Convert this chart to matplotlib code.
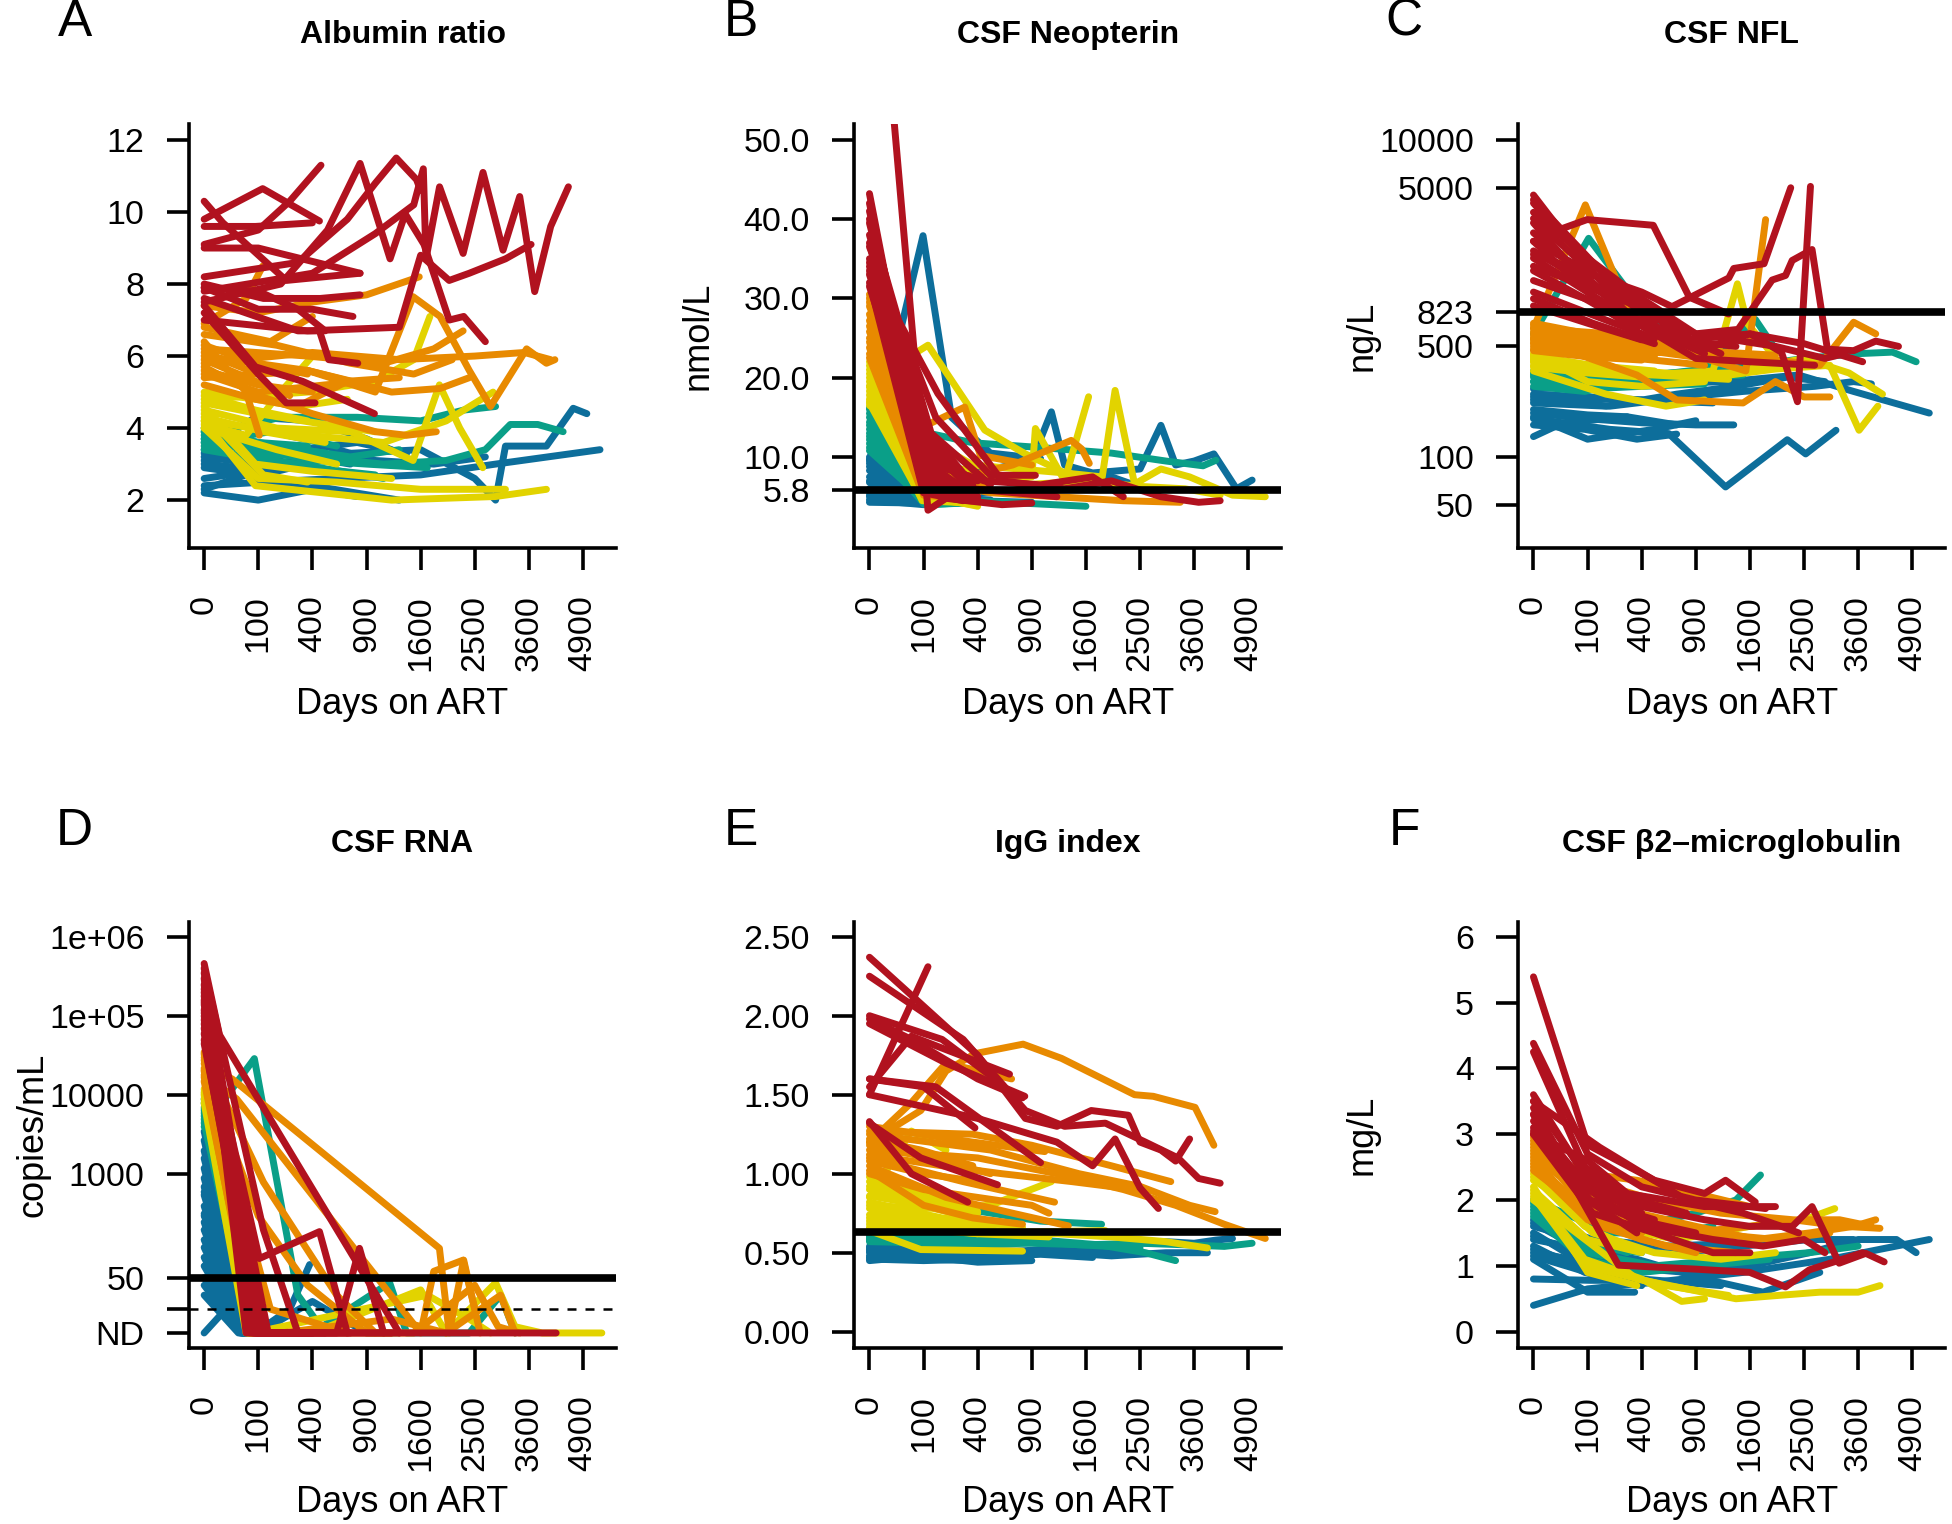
import numpy as np
import matplotlib.pyplot as plt
from matplotlib.ticker import NullLocator

plt.rcParams['font.family'] = ['Liberation Sans', 'DejaVu Sans']

# colour groups (baseline quintiles): b=blue, t=teal, y=yellow, o=orange, r=red
COL = {"b": "#0D6E9B", "t": "#0A9F88", "y": "#E2D300", "o": "#E88A00", "r": "#B1121F"}
ORDER = "btyor"

xtick_days = [0, 100, 400, 900, 1600, 2500, 3600, 4900]

# A: albumin ratio  (group, days on ART, value)
alb = [
    ("b", [0, 100, 400, 800], [2.2, 2.0, 2.3, 2.1]),
    ("b", [0, 120, 600, 1600, 2900, 5350], [2.4, 2.5, 2.6, 2.7, 3.0, 3.4]),
    ("b", [0, 180, 730, 1600, 2500, 2900, 3100, 4000, 4650, 5000], [3.0, 2.8, 3.3, 3.4, 2.6, 2.0, 3.5, 3.5, 4.55, 4.4]),
    ("b", [0, 90, 365, 730], [2.9, 2.7, 3.2, 3.0]),
    ("b", [0, 100, 300, 800, 1400], [3.3, 3.0, 3.4, 3.6, 3.3]),
    ("b", [0, 180, 500, 1000, 1800, 2700], [2.6, 2.9, 3.5, 3.1, 3.0, 3.2]),
    ("b", [0, 90, 400, 900, 1300], [3.4, 4.3, 4.2, 3.7, 3.3]),
    ("b", [0, 60, 200, 500], [2.3, 2.7, 2.5, 2.4]),
    ("b", [0, 100, 400, 1300], [3.1, 2.6, 2.4, 2.0]),
    ("b", [0, 100, 365], [3.2, 3.0, 3.1]),
    ("t", [0, 200, 800, 1600, 2300, 2900], [3.8, 4.3, 4.3, 4.2, 4.5, 4.6]),
    ("t", [0, 365, 1100, 2000, 2700, 3200, 3800, 4400], [3.6, 3.2, 3.0, 3.1, 3.4, 4.1, 4.1, 3.9]),
    ("t", [0, 100, 400, 900, 1700], [3.9, 3.4, 3.1, 3.0, 2.9]),
    ("t", [0, 90, 365, 1000], [3.5, 3.1, 2.9, 2.7]),
    ("t", [0, 180, 730, 1300], [3.7, 3.5, 3.2, 3.4]),
    ("t", [0, 100, 500], [4.0, 3.6, 3.3]),
    ("t", [0, 60, 300, 1100], [3.4, 3.2, 3.0, 2.6]),
    ("t", [0, 150, 600], [3.6, 3.9, 3.5]),
    ("t", [0, 90, 400], [3.7, 3.3, 3.2]),
    ("t", [0, 100, 365], [3.9, 3.6, 3.5]),
    ("y", [0, 90, 1200, 2900, 4000], [4.2, 2.4, 2.0, 2.1, 2.3]),
    ("y", [0, 100, 600, 1600, 3100], [4.0, 2.6, 2.5, 2.3, 2.3]),
    ("y", [0, 365, 1000, 1500, 1740], [4.8, 5.0, 5.3, 5.9, 7.1]),
    ("y", [0, 180, 730, 1490, 1890, 2230, 2650], [4.5, 4.0, 3.9, 3.1, 5.2, 4.0, 2.9]),
    ("y", [0, 365, 1100, 2000, 2850], [4.2, 3.8, 3.6, 4.2, 5.0]),
    ("y", [0, 90, 400, 1200], [4.6, 3.0, 2.8, 2.6]),
    ("y", [0, 120, 365], [4.4, 2.7, 2.5]),
    ("y", [0, 90, 300, 700], [5.0, 4.8, 4.6, 4.8]),
    ("y", [0, 60, 200, 400], [4.1, 3.8, 5.0, 6.0]),
    ("y", [0, 180, 600], [4.0, 3.4, 3.0]),
    ("y", [0, 100, 500, 1000], [4.7, 4.4, 4.1, 3.9]),
    ("y", [0, 120, 500], [4.3, 3.9, 3.6]),
    ("y", [0, 90, 365], [4.9, 4.5, 4.2]),
    ("o", [0, 100, 400, 900, 1580], [7.4, 7.2, 7.5, 7.7, 8.2]),
    ("o", [0, 365, 1000, 1490, 1900, 2400, 2800, 3550, 4000, 4200], [6.0, 5.6, 5.0, 7.65, 7.1, 5.6, 4.6, 6.2, 5.8, 5.9]),
    ("o", [0, 400, 1300, 2500, 3500, 4100], [5.8, 6.1, 5.9, 6.0, 6.1, 5.9]),
    ("o", [0, 365, 1100, 1800, 2290], [6.2, 6.0, 5.8, 6.2, 6.7]),
    ("o", [0, 100, 400, 1000, 1400, 1840], [5.7, 4.9, 4.4, 3.9, 3.8, 3.9]),
    ("o", [0, 60, 104], [6.4, 5.0, 3.8]),
    ("o", [0, 100, 500, 900], [5.5, 5.0, 5.2, 5.3]),
    ("o", [0, 150, 400], [6.8, 6.4, 7.1]),
    ("o", [0, 90, 300, 700, 1300], [5.2, 4.8, 4.6, 5.3, 5.4]),
    ("o", [0, 180, 730, 1500, 2100], [6.6, 6.3, 5.8, 5.5, 5.9]),
    ("o", [0, 60, 117], [6.9, 7.6, 8.5]),
    ("o", [0, 100, 365, 900], [6.1, 5.5, 5.6, 5.2]),
    ("o", [0, 365, 1200, 1900, 2400], [5.4, 5.6, 5.0, 5.1, 5.4]),
    ("o", [0, 90, 250], [5.9, 5.3, 4.9]),
    ("o", [0, 100, 400], [5.6, 5.2, 5.0]),
    ("o", [0, 90, 365], [6.3, 5.8, 5.5]),
    ("r", [0, 117, 454], [9.8, 10.65, 9.75]),
    ("r", [0, 100, 250, 466], [9.1, 9.5, 10.3, 11.3]),
    ("r", [0, 12, 230, 830], [10.3, 9.7, 8.1, 8.3]),
    ("r", [0, 120, 460, 830], [8.0, 7.6, 7.6, 7.7]),
    ("r", [0, 100, 400, 756], [7.9, 7.3, 7.3, 7.1]),
    ("r", [0, 300, 454, 530, 806], [7.6, 6.7, 6.7, 5.9, 5.8]),
    ("r", [0, 90, 330, 990], [7.4, 5.7, 5.3, 4.4]),
    ("r", [0, 100, 230, 420], [7.2, 5.5, 4.7, 4.7]),
    ("r", [0, 365, 1300, 1600, 2050, 2400, 3100, 3650], [7.0, 6.7, 6.8, 8.8, 8.1, 8.3, 8.7, 9.1]),
    ("r", [0, 400, 1000, 1500, 1640, 1680, 1892, 2290, 2655, 3050, 3400, 3730, 4100, 4530],
     [7.8, 8.3, 9.4, 10.2, 11.2, 8.7, 10.7, 8.85, 11.1, 8.94, 10.43, 7.79, 9.6, 10.7]),
    ("r", [0, 200, 520, 830, 1180, 1380, 1650, 2050, 2300, 2700], [7.5, 8.0, 9.5, 11.35, 8.7, 9.95, 9.1, 7.0, 7.1, 6.4]),
    ("r", [0, 300, 700, 1000, 1260, 1540, 1600], [8.2, 8.6, 9.8, 10.8, 11.5, 10.9, 10.6]),
    ("r", [0, 100, 830], [9.0, 9.0, 8.3]),
    ("r", [0, 100, 300, 500], [7.9, 7.8, 7.3, 6.7]),
    ("r", [0, 90, 400], [9.6, 9.6, 9.7]),
]

# B: CSF neopterin (nmol/L)
neo = [
    ("b", [0, 90, 180], [4.3, 4.2, 4.5]),
    ("b", [0, 100, 365, 900], [4.6, 4.0, 4.5, 4.3]),
    ("b", [0, 60, 200], [5.2, 4.6, 4.4]),
    ("b", [0, 90, 300], [5.6, 4.4, 4.3]),
    ("b", [0, 80, 365], [6.0, 4.8, 4.6]),
    ("b", [0, 100, 300], [6.8, 4.5, 4.3]),
    ("b", [0, 100, 400], [7.0, 4.3, 4.6]),
    ("b", [0, 90, 400], [7.5, 5.2, 4.8]),
    ("b", [0, 70, 250], [8.3, 4.6, 4.5]),
    ("b", [0, 80, 200], [8.8, 4.8, 4.4]),
    ("b", [0, 100, 500], [9.2, 5.0, 4.6]),
    ("b", [0, 95, 365], [9.7, 5.3, 4.8]),
    ("b", [0, 110, 400], [10.0, 4.8, 5.0]),
    ("b", [0, 98, 230, 500, 1000], [9.5, 37.9, 15.0, 10.5, 9.8]),
    ("b", [0, 365, 900, 1130, 1300, 1700, 2500, 2900, 3200, 3600, 4050, 4600, 5000],
     [6.0, 8.0, 9.5, 15.7, 9.0, 8.0, 8.5, 14.0, 9.0, 9.5, 10.4, 6.0, 7.1]),
    ("b", [0, 400, 1200, 2000, 2600], [5.0, 5.5, 6.0, 7.5, 6.0]),
    ("t", [0, 90, 200], [10.8, 5.0, 4.4]),
    ("t", [0, 95, 300], [11.2, 4.7, 4.4]),
    ("t", [0, 100, 300], [11.7, 4.2, 4.5]),
    ("t", [0, 105, 400], [12.2, 5.1, 4.6]),
    ("t", [0, 110, 365], [12.6, 4.0, 4.3]),
    ("t", [0, 115, 300], [13.0, 4.4, 4.2]),
    ("t", [0, 90, 400], [13.5, 4.6, 4.8]),
    ("t", [0, 100, 365], [14.0, 5.0, 4.5]),
    ("t", [0, 120, 300], [14.4, 4.0, 4.2]),
    ("t", [0, 90, 250], [15.0, 5.5, 4.6]),
    ("t", [0, 100, 365, 1600], [15.5, 4.1, 4.5, 3.8]),
    ("t", [0, 110, 400], [16.0, 4.7, 4.3]),
    ("t", [0, 120, 365, 1000, 2000, 3000, 3800, 4100], [16.2, 13.0, 11.8, 11.2, 10.5, 9.5, 8.9, 9.6]),
    ("y", [0, 90, 365], [16.8, 5.0, 4.0]),
    ("y", [0, 100, 300], [17.3, 5.3, 4.4]),
    ("y", [0, 100, 300], [17.8, 4.6, 4.3]),
    ("y", [0, 95, 365], [18.3, 4.5, 4.2]),
    ("y", [0, 110, 365], [18.8, 5.5, 4.2]),
    ("y", [0, 105, 400], [19.0, 6.0, 4.6]),
    ("y", [0, 117, 454, 830, 1200, 1600], [19.5, 24.1, 13.4, 10.4, 8.5, 6.5]),
    ("y", [0, 120, 365], [20.0, 5.0, 4.3]),
    ("y", [0, 100, 400], [20.5, 5.2, 3.8]),
    ("y", [0, 110, 300], [21.0, 5.5, 4.5]),
    ("y", [0, 120, 900, 940, 1300, 1640], [21.5, 6.0, 7.5, 13.6, 7.0, 17.6]),
    ("y", [0, 100, 365], [22.0, 7.0, 5.0]),
    ("y", [0, 365, 1300, 1850, 2060, 2400, 2900, 3500, 4500, 5350], [16.5, 9.0, 8.0, 7.5, 18.4, 6.6, 8.5, 7.5, 5.2, 5.0]),
    ("y", [0, 200, 800, 1600, 2500, 3400, 4200], [17.0, 9.0, 6.5, 7.0, 6.3, 6.0, 5.2]),
    ("o", [0, 90, 300], [22.5, 6.0, 5.0]),
    ("o", [0, 110, 365], [23.0, 7.0, 5.0]),
    ("o", [0, 100, 365], [23.8, 5.2, 4.6]),
    ("o", [0, 100, 300], [24.5, 5.8, 4.8]),
    ("o", [0, 110, 310, 420, 900], [25.0, 14.0, 16.3, 10.2, 9.0]),
    ("o", [0, 130, 400], [25.8, 8.5, 5.5]),
    ("o", [0, 120, 365], [26.5, 6.5, 5.5]),
    ("o", [0, 120, 365], [27.2, 6.0, 4.6]),
    ("o", [0, 100, 300, 700, 1390, 1540, 1650], [28.0, 8.0, 7.5, 9.0, 12.1, 11.0, 9.2]),
    ("o", [0, 140, 500], [29.0, 9.0, 6.0]),
    ("o", [0, 130, 500, 1200, 2200, 3300], [29.5, 7.0, 5.5, 5.0, 4.5, 4.3]),
    ("o", [0, 110, 365], [30.0, 5.5, 4.4]),
    ("o", [0, 100, 400], [30.5, 6.0, 4.7]),
    ("r", [0, 117, 200, 600, 900], [88.0, 3.3, 4.8, 4.0, 4.2]),
    ("r", [0, 100, 300], [43.2, 8.0, 5.5]),
    ("r", [0, 105, 365], [42.0, 9.5, 5.2]),
    ("r", [0, 110, 365, 1200], [41.0, 12.0, 6.0, 5.0]),
    ("r", [0, 130, 500], [40.0, 13.0, 6.5]),
    ("r", [0, 120, 400], [39.5, 10.0, 7.0]),
    ("r", [0, 100, 365], [38.0, 14.0, 6.5]),
    ("r", [0, 115, 400], [37.0, 7.0, 4.8]),
    ("r", [0, 150, 500, 940], [36.5, 15.0, 7.7, 7.7]),
    ("r", [0, 130, 400], [35.0, 11.0, 5.0]),
    ("r", [0, 125, 365], [34.5, 12.0, 6.0]),
    ("r", [0, 160, 600, 1300, 2000, 2900, 3700, 4200], [34.0, 18.0, 7.0, 6.0, 7.0, 5.0, 4.3, 4.5]),
    ("r", [0, 95, 300], [33.5, 6.5, 4.6]),
    ("r", [0, 140, 450, 1000, 1700, 2200], [33.0, 9.0, 7.0, 6.5, 7.5, 5.0]),
    ("r", [0, 100, 300], [32.0, 5.5, 4.5]),
    ("r", [0, 120, 365], [31.5, 8.5, 5.0]),
]

# C: CSF NFL (ng/L)
nfl = [
    ("b", [0, 200, 625, 1260, 2200, 2530, 3125], [175, 150, 141, 65, 129, 105, 148]),
    ("b", [0, 400, 1300, 2400, 3500, 5350], [270, 290, 300, 330, 260, 190]),
    ("b", [0, 100, 400, 900, 1370], [190, 175, 165, 160, 160]),
    ("b", [0, 30, 300, 700], [135, 165, 180, 160]),
    ("b", [0, 100, 500, 900], [180, 130, 150, 170]),
    ("b", [0, 180, 700, 1400, 2200, 2900], [220, 210, 250, 280, 320, 300]),
    ("b", [0, 365, 1100], [240, 230, 220]),
    ("b", [0, 90, 365, 700], [160, 150, 130, 140]),
    ("b", [0, 200, 800, 1500, 2700, 3500, 3900], [230, 210, 240, 260, 280, 300, 290]),
    ("b", [0, 100, 300], [200, 185, 180]),
    ("b", [0, 100, 400], [250, 240, 230]),
    ("t", [0, 104, 420, 900], [600, 2400, 820, 520]),
    ("t", [0, 400, 1300, 2500, 3600, 4400, 5000], [300, 330, 360, 420, 450, 460, 400]),
    ("t", [0, 365, 1000, 1680, 2000], [330, 320, 360, 740, 480]),
    ("t", [0, 100, 400, 1000], [300, 270, 280, 290]),
    ("t", [0, 180, 730], [340, 320, 300]),
    ("t", [0, 90, 300, 900, 1500], [280, 260, 300, 320, 330]),
    ("t", [0, 100, 365], [320, 300, 290]),
    ("t", [0, 120, 500], [350, 320, 310]),
    ("y", [0, 400, 1100, 2000, 3000, 3620, 4050], [420, 350, 320, 360, 380, 148, 210]),
    ("y", [0, 365, 1300, 2500, 3400, 4160], [380, 330, 340, 420, 340, 250]),
    ("y", [0, 400, 1100, 1420, 1560, 2000], [400, 330, 350, 1240, 700, 420]),
    ("y", [0, 100, 400, 1000], [450, 300, 280, 300]),
    ("y", [0, 180, 600, 1000], [350, 250, 210, 230]),
    ("y", [0, 90, 365], [430, 380, 330]),
    ("y", [0, 120, 500, 1300], [400, 350, 330, 310]),
    ("y", [0, 100, 400], [370, 340, 320]),
    ("y", [0, 90, 365], [410, 370, 340]),
    ("y", [0, 110, 500], [440, 380, 350]),
    ("o", [0, 92, 300, 500], [650, 3900, 900, 600]),
    ("o", [0, 365, 1000, 1540, 1840], [550, 480, 420, 350, 3150]),
    ("o", [0, 730, 1800, 2800, 3500, 4000], [520, 470, 420, 380, 710, 600]),
    ("o", [0, 365, 700, 1500, 2000, 2500, 3000], [560, 330, 230, 220, 300, 240, 240]),
    ("o", [0, 100, 400, 900], [700, 600, 550, 500]),
    ("o", [0, 180, 730, 1300], [480, 450, 460, 430]),
    ("o", [0, 90, 365, 900, 2000], [560, 520, 480, 470, 440]),
    ("o", [0, 200, 600], [650, 600, 500]),
    ("o", [0, 365, 1000], [500, 420, 380]),
    ("o", [0, 150, 500], [600, 520, 470]),
    ("o", [0, 100, 400], [470, 430, 410]),
    ("o", [0, 120, 500], [530, 470, 430]),
    ("o", [0, 90, 365], [580, 500, 460]),
    ("o", [0, 110, 400], [620, 540, 480]),
    ("o", [0, 100, 500], [680, 560, 490]),
    ("r", [0, 20, 98, 490, 830, 1300], [4000, 2700, 3150, 2900, 1020, 800]),
    ("r", [0, 400, 655, 1303, 1370, 1815, 2260], [1900, 1100, 890, 1350, 1550, 1660, 5000]),
    ("r", [0, 365, 1000, 1600, 2100, 2380, 2620], [2300, 1000, 480, 600, 460, 224, 5100]),
    ("r", [0, 365, 900, 1430, 1945, 2170, 2285, 2650, 2950, 3500, 4000, 4550],
     [1600, 900, 600, 640, 1310, 1400, 1740, 2040, 480, 470, 540, 500]),
    ("r", [0, 100, 400, 900, 2000, 2900, 3300], [3500, 1800, 1000, 600, 500, 420, 450]),
    ("r", [0, 60, 300, 800, 1600, 2500, 3700], [3000, 1500, 800, 550, 600, 520, 400]),
    ("r", [0, 90, 365, 1000], [2600, 1400, 700, 450]),
    ("r", [0, 180, 600, 1400], [1300, 900, 560, 500]),
    ("r", [0, 120, 500], [1000, 700, 520]),
    ("r", [0, 365, 900, 1600, 2700], [1800, 700, 420, 400, 380]),
    ("r", [0, 200, 700, 1200], [4200, 1300, 600, 450]),
    ("r", [0, 100, 400], [900, 700, 550]),
    ("r", [0, 110, 500], [1100, 800, 560]),
    ("r", [0, 90, 365], [1500, 1000, 650]),
    ("r", [0, 120, 400], [2000, 1200, 700]),
    ("r", [0, 100, 365], [2300, 1100, 600]),
    ("r", [0, 130, 500], [3200, 1400, 700]),
    ("r", [0, 80, 300], [4500, 1800, 800]),
]

# D: CSF RNA (copies/mL); not detected plotted at 10
ND = 10
rna = [
    ("b", [0, 21, 50], [10, 22, 10]),
    ("b", [0, 40, 120], [30, 10, 10]),
    ("b", [0, 45, 150], [40, 10, 10]),
    ("b", [0, 45, 200], [50, 10, 10]),
    ("b", [0, 50, 200], [70, 10, 10]),
    ("b", [0, 50, 300], [90, 10, 10]),
    ("b", [0, 55, 250], [120, 10, 10]),
    ("b", [0, 55, 150], [150, 10, 10]),
    ("b", [0, 58, 300], [200, 10, 10]),
    ("b", [0, 50, 365], [250, 10, 10]),
    ("b", [0, 62, 200], [320, 10, 10]),
    ("b", [0, 60, 200], [400, 10, 10]),
    ("b", [0, 60, 365], [550, 10, 10]),
    ("b", [0, 55, 300], [700, 10, 10]),
    ("b", [0, 65, 300], [900, 10, 10]),
    ("b", [0, 60, 250], [1200, 10, 10]),
    ("b", [0, 68, 250], [1600, 10, 10]),
    ("b", [0, 65, 400], [2000, 10, 10]),
    ("b", [0, 72, 400], [2700, 10, 10]),
    ("b", [0, 70, 300], [3500, 10, 10]),
    ("b", [0, 90, 250, 380], [600, 10, 20, 73]),
    ("b", [0, 100, 400, 900, 1300], [300, 10, 25, 10, 10]),
    ("t", [0, 86, 300, 500], [4000, 29000, 30, 10]),
    ("t", [0, 72, 300], [4500, 10, 10]),
    ("t", [0, 70, 200], [5000, 10, 10]),
    ("t", [0, 78, 365], [5500, 10, 10]),
    ("t", [0, 75, 365], [6000, 10, 10]),
    ("t", [0, 82, 250], [6500, 10, 10]),
    ("t", [0, 80, 300], [7000, 10, 10]),
    ("t", [0, 85, 300], [8000, 10, 10]),
    ("t", [0, 90, 400, 1175, 1400, 2400, 3000, 3300], [9000, 10, 10, 43, 10, 10, 30, 10]),
    ("y", [0, 60, 200], [8000, 10, 10]),
    ("y", [0, 68, 250], [9000, 10, 10]),
    ("y", [0, 70, 300], [10000, 10, 10]),
    ("y", [0, 75, 365], [10500, 10, 10]),
    ("y", [0, 65, 400, 1600, 2000, 2900, 3300, 3900, 5400], [12000, 10, 10, 35, 10, 43, 12, 10, 10]),
    ("y", [0, 80, 1700, 2400, 2800], [11000, 10, 30, 15, 10]),
    ("o", [0, 27, 1890, 2050, 2300, 2600], [25000, 16000, 117, 10, 83, 10]),
    ("o", [0, 36, 1600, 1800, 2290, 2500], [18000, 9000, 10, 60, 83, 20]),
    ("o", [0, 100, 365, 900, 1200], [20000, 300, 40, 10, 10]),
    ("o", [0, 120, 600, 1000], [30000, 800, 30, 10]),
    ("o", [0, 90, 200, 1200, 2000, 3000, 3300], [15000, 10, 10, 15, 10, 30, 10]),
    ("o", [0, 150, 700], [22000, 20, 10]),
    ("o", [0, 80, 400, 1500, 2500, 2950, 3400], [35000, 10, 10, 10, 40, 12, 10]),
    ("o", [0, 85, 300], [17000, 10, 10]),
    ("o", [0, 90, 365], [21000, 10, 10]),
    ("o", [0, 95, 250], [28000, 10, 10]),
    ("o", [0, 100, 400], [33000, 10, 10]),
    ("r", [0, 8, 1300], [460000, 58000, 10]),
    ("r", [0, 104, 454, 700], [100000, 87, 190, 10]),
    ("r", [0, 100, 600, 824, 1100], [150000, 10, 10, 117, 10]),
    ("r", [0, 60, 200], [300000, 10, 10]),
    ("r", [0, 70, 300], [250000, 10, 10]),
    ("r", [0, 80, 400], [200000, 10, 10]),
    ("r", [0, 85, 500, 1500, 2500, 3500, 4230], [120000, 10, 10, 10, 10, 10, 10]),
    ("r", [0, 90, 365], [80000, 10, 10]),
    ("r", [0, 100, 730], [60000, 10, 10]),
    ("r", [0, 110, 400], [45000, 10, 10]),
    ("r", [0, 120, 300, 700, 1200], [400000, 200, 10, 10, 10]),
    ("r", [0, 95, 250], [180000, 10, 10]),
    ("r", [0, 100, 300], [50000, 10, 10]),
    ("r", [0, 105, 365], [70000, 10, 10]),
    ("r", [0, 110, 300], [90000, 10, 10]),
    ("r", [0, 115, 400], [140000, 10, 10]),
    ("r", [0, 120, 300], [220000, 10, 10]),
    ("r", [0, 125, 365], [350000, 10, 10]),
    ("r", [0, 130, 250], [160000, 10, 10]),
    ("r", [0, 140, 500], [110000, 10, 10]),
]

# E: IgG index
igg = [
    ("b", [0, 90, 400, 900], [0.45, 0.48, 0.44, 0.45]),
    ("b", [0, 100, 365, 800], [0.48, 0.46, 0.45, 0.46]),
    ("b", [0, 180, 600, 1200, 2000, 2500, 3000, 3600, 4100, 4500], [0.50, 0.52, 0.50, 0.53, 0.50, 0.56, 0.57, 0.56, 0.58, 0.59]),
    ("b", [0, 365, 1000, 2000, 3000, 3900], [0.52, 0.50, 0.51, 0.48, 0.50, 0.50]),
    ("b", [0, 120, 500], [0.54, 0.50, 0.48]),
    ("b", [0, 90, 365, 1000, 1700], [0.47, 0.46, 0.47, 0.49, 0.47]),
    ("b", [0, 200, 800, 1500, 2200], [0.53, 0.52, 0.51, 0.50, 0.52]),
    ("b", [0, 100, 400], [0.46, 0.45, 0.46]),
    ("b", [0, 90, 365], [0.51, 0.49, 0.48]),
    ("t", [0, 200, 900, 1600, 2500, 3400, 4300, 5000], [0.58, 0.55, 0.56, 0.55, 0.56, 0.55, 0.54, 0.56]),
    ("t", [0, 365, 1000, 1800, 2600, 3200], [0.60, 0.59, 0.58, 0.55, 0.50, 0.45]),
    ("t", [0, 430, 1000, 1840], [0.58, 0.76, 0.70, 0.68]),
    ("t", [0, 100, 500, 1200], [0.62, 0.60, 0.58, 0.57]),
    ("t", [0, 180, 700, 1500, 2500], [0.57, 0.56, 0.58, 0.55, 0.53]),
    ("t", [0, 100, 400], [0.59, 0.57, 0.56]),
    ("t", [0, 120, 500], [0.61, 0.58, 0.57]),
    ("y", [0, 90, 800], [0.64, 0.52, 0.51]),
    ("y", [0, 100, 400, 1100], [0.70, 0.66, 0.62, 0.60]),
    ("y", [0, 100, 500, 1130], [0.80, 0.78, 0.80, 0.95]),
    ("y", [0, 60, 200], [0.85, 1.27, 1.15]),
    ("y", [0, 365, 1200, 2000, 3000, 3900], [0.66, 0.64, 0.62, 0.60, 0.57, 0.53]),
    ("y", [0, 90, 365, 800], [0.90, 0.80, 0.72, 0.66]),
    ("y", [0, 120, 400], [0.95, 0.85, 0.76]),
    ("y", [0, 90, 300, 700, 1900], [0.72, 0.68, 0.66, 0.63, 0.64]),
    ("y", [0, 180, 700], [0.82, 0.72, 0.67]),
    ("y", [0, 100, 400], [0.68, 0.65, 0.62]),
    ("y", [0, 90, 365], [0.74, 0.70, 0.66]),
    ("y", [0, 110, 500], [0.78, 0.72, 0.68]),
    ("y", [0, 100, 300], [0.86, 0.80, 0.74]),
    ("y", [0, 120, 400], [0.92, 0.82, 0.75]),
    ("y", [0, 90, 365], [0.98, 0.88, 0.80]),
    ("o", [0, 90, 200, 380, 806, 1260, 2400, 2750, 3620, 4050], [1.2, 1.4, 1.65, 1.76, 1.82, 1.73, 1.5, 1.49, 1.42, 1.18]),
    ("o", [0, 60, 200, 690], [1.2, 1.45, 1.7, 1.6]),
    ("o", [0, 400, 1200, 2200, 3200, 4300, 5350], [1.15, 1.1, 1.0, 0.9, 0.8, 0.68, 0.59]),
    ("o", [0, 500, 1500, 2500, 3500, 4080], [1.25, 1.15, 1.0, 0.92, 0.8, 0.76]),
    ("o", [0, 300, 1170], [1.1, 0.95, 0.82]),
    ("o", [0, 200, 700, 1350], [1.05, 0.85, 0.75, 0.67]),
    ("o", [0, 365, 1050], [1.3, 1.2, 1.14]),
    ("o", [0, 100, 400, 900, 1100], [1.0, 0.90, 0.85, 0.80, 0.75]),
    ("o", [0, 180, 600, 1400, 2400], [1.12, 1.05, 1.0, 0.95, 0.90]),
    ("o", [0, 100, 365, 800], [1.02, 0.80, 0.72, 0.68]),
    ("o", [0, 365, 900, 2000, 3100], [1.27, 1.25, 1.18, 1.05, 0.95]),
    ("o", [0, 100, 400], [1.08, 1.0, 0.95]),
    ("o", [0, 120, 500], [1.18, 1.1, 1.0]),
    ("o", [0, 90, 365], [1.22, 1.15, 1.05]),
    ("r", [0, 400, 830, 1200, 1680, 2290, 2500, 2900, 3200, 3500], [2.37, 1.75, 1.35, 1.3, 1.4, 1.37, 1.2, 1.15, 1.08, 1.22]),
    ("r", [0, 300, 830, 1300, 1900, 2600, 3250, 3700, 4200], [2.25, 1.85, 1.4, 1.3, 1.32, 1.2, 1.1, 0.97, 0.94]),
    ("r", [0, 117], [1.5, 2.31]),
    ("r", [0, 60, 400, 800], [1.98, 1.85, 1.6, 1.48]),
    ("r", [0, 60, 670], [1.55, 1.87, 1.63]),
    ("r", [0, 200, 824], [1.95, 1.7, 1.49]),
    ("r", [0, 150, 1000], [1.6, 1.55, 1.07]),
    ("r", [0, 90, 560], [1.32, 1.1, 0.93]),
    ("r", [0, 60, 330], [1.33, 1.0, 0.82]),
    ("r", [0, 100, 380], [1.6, 1.55, 1.29]),
    ("r", [0, 400, 1200, 1700, 2060, 2500, 2850], [1.5, 1.35, 1.2, 1.05, 1.22, 0.91, 0.78]),
    ("r", [0, 180, 500], [2.0, 1.85, 1.62]),
]

# F: CSF beta2-microglobulin (mg/L)
b2m = [
    ("b", [0, 100, 500, 1500, 3000, 5350], [0.4, 0.65, 0.75, 0.9, 1.1, 1.4]),
    ("b", [0, 110, 360], [0.8, 0.78, 0.78]),
    ("b", [0, 100, 350], [1.1, 0.6, 0.6]),
    ("b", [0, 200, 800, 1600, 2600, 3600, 4500, 5000], [1.2, 1.0, 0.9, 1.0, 1.2, 1.4, 1.4, 1.2]),
    ("b", [0, 365, 1000, 1800, 2800], [1.4, 1.1, 0.8, 0.6, 0.9]),
    ("b", [0, 100, 400, 1200], [1.5, 1.0, 0.8, 0.7]),
    ("b", [0, 180, 730, 1500, 2600, 3500], [1.6, 1.3, 1.2, 1.3, 1.4, 1.4]),
    ("b", [0, 90, 400], [1.3, 0.9, 0.7]),
    ("b", [0, 120, 600, 1600], [1.7, 1.4, 1.3, 1.35]),
    ("b", [0, 100, 400], [1.15, 0.9, 0.8]),
    ("b", [0, 90, 300], [1.25, 1.0, 0.9]),
    ("b", [0, 120, 500], [1.45, 1.1, 1.0]),
    ("b", [0, 100, 365], [1.65, 1.2, 1.0]),
    ("t", [0, 365, 900, 1400, 1760], [1.9, 1.6, 1.8, 2.0, 2.38]),
    ("t", [0, 100, 500, 1300, 2600, 3600], [1.8, 1.2, 1.0, 1.1, 1.2, 1.3]),
    ("t", [0, 200, 700, 1100], [2.0, 1.5, 1.5, 1.6]),
    ("t", [0, 90, 400, 1000, 1900], [1.75, 1.1, 0.9, 1.0, 1.1]),
    ("t", [0, 100, 400], [1.85, 1.3, 1.2]),
    ("t", [0, 90, 300], [1.95, 1.4, 1.2]),
    ("y", [0, 90, 400, 750, 1000], [2.1, 1.1, 0.8, 0.46, 0.5]),
    ("y", [0, 365, 1400, 2800, 3600, 4100], [2.0, 0.8, 0.5, 0.6, 0.6, 0.7]),
    ("y", [0, 200, 700, 1600, 2500, 3100], [2.3, 1.6, 1.4, 1.6, 1.7, 1.87]),
    ("y", [0, 100, 365], [2.2, 0.9, 0.7]),
    ("y", [0, 120, 500, 1200, 2000], [2.4, 1.5, 1.2, 1.1, 1.2]),
    ("y", [0, 90, 600, 1300], [2.05, 1.0, 0.7, 0.55]),
    ("y", [0, 100, 400], [2.15, 1.4, 1.2]),
    ("y", [0, 90, 300], [2.35, 1.6, 1.3]),
    ("o", [0, 100, 500, 1200, 2300, 3300, 4100], [2.9, 2.3, 2.0, 1.8, 1.7, 1.6, 1.57]),
    ("o", [0, 200, 900, 1700, 2600, 3500, 4000], [2.7, 1.9, 1.6, 1.4, 1.5, 1.6, 1.7]),
    ("o", [0, 100, 400, 900], [2.5, 1.7, 1.4, 1.2]),
    ("o", [0, 365, 1000, 2000, 3000], [2.8, 1.8, 1.5, 1.4, 1.5]),
    ("o", [0, 150, 600, 1400], [2.6, 1.6, 1.3, 1.2]),
    ("o", [0, 90, 300], [3.0, 2.0, 1.6]),
    ("o", [0, 180, 800, 1600, 2400, 3200, 3900], [2.45, 1.6, 1.5, 1.6, 1.7, 1.7, 1.6]),
    ("o", [0, 100, 365, 900, 1600], [2.75, 2.4, 2.3, 2.1, 1.9]),
    ("o", [0, 100, 400], [2.55, 1.8, 1.5]),
    ("o", [0, 120, 500], [2.65, 2.0, 1.6]),
    ("o", [0, 90, 365], [2.85, 1.9, 1.6]),
    ("o", [0, 110, 400], [2.95, 2.1, 1.8]),
    ("r", [0, 100, 500, 1000, 1260, 1680], [5.39, 2.84, 2.3, 2.1, 2.3, 1.97]),
    ("r", [0, 100, 400, 900, 1840], [4.38, 2.7, 2.2, 2.0, 1.87]),
    ("r", [0, 90, 365, 800], [4.25, 2.5, 2.0, 1.8]),
    ("r", [0, 100, 400, 1000, 1600, 2290, 2650, 3190, 3770, 4200], [3.6, 2.3, 1.9, 1.7, 1.6, 1.6, 1.9, 1.04, 1.19, 1.06]),
    ("r", [0, 247, 900, 1600, 2170, 2600, 3700], [3.3, 1.01, 0.95, 0.9, 0.68, 0.94, 1.2]),
    ("r", [0, 100, 365, 900], [3.4, 2.0, 1.7, 1.5]),
    ("r", [0, 90, 400, 1100, 1800, 2500, 2900], [3.1, 2.2, 1.6, 1.4, 1.3, 1.4, 1.2]),
    ("r", [0, 120, 500, 1100, 1600], [3.0, 1.8, 1.5, 1.2, 1.2]),
    ("r", [0, 100, 365], [3.3, 2.0, 1.5]),
    ("r", [0, 150, 800, 1500, 2100, 2400], [3.5, 2.8, 2.0, 1.8, 1.6, 1.5]),
    ("r", [0, 100, 300, 1000, 2000], [3.0, 2.6, 2.1, 1.9, 1.9]),
    ("r", [0, 100, 400], [3.2, 2.2, 1.8]),
    ("r", [0, 90, 365], [3.5, 2.4, 1.9]),
    ("r", [0, 110, 500], [3.05, 2.0, 1.7]),
]

W, H = 1952, 1524
fig = plt.figure(figsize=(W / 100, H / 100), dpi=100)

LEFTS = [189, 854.3, 1518.3]
ROWS = [(123.8, 424.2, -0.370, 35), (921.7, 426.3, -0.363, 844)]
AXW = 427
LW = 5.0


def panel(col, row, series, title, letter, ylim, yticks, ylabels, ylabel=None,
          log=False, hlines=()):
    top, hgt, xlab_y, title_y = ROWS[row]
    left = LEFTS[col]
    ax = fig.add_axes([left / W, 1 - (top + hgt) / H, AXW / W, hgt / H])
    if log:
        ax.set_yscale("log")
    for key in ORDER:
        for c, d, v in series:
            if c == key:
                ax.plot(np.sqrt(d), v, color=COL[c], lw=LW,
                        solid_capstyle="round", solid_joinstyle="round")
    for y, ls, lw in hlines:
        ax.axhline(y, color="black", lw=lw, ls=ls, zorder=5)
    ax.set_xlim(-2.8, 76.1)
    ax.set_ylim(*ylim)
    ax.set_xticks(np.sqrt(xtick_days))
    ax.set_xticklabels([str(d) for d in xtick_days], rotation=90)
    ax.set_yticks(yticks)
    ax.set_yticklabels(ylabels)
    ax.yaxis.set_minor_locator(NullLocator())
    for s in ("top", "right"):
        ax.spines[s].set_visible(False)
    for s in ("left", "bottom"):
        ax.spines[s].set_linewidth(2.6)
    ax.tick_params(axis="both", direction="out", length=16, width=2.6, labelsize=24.5)
    ax.tick_params(axis="x", pad=18)
    ax.tick_params(axis="y", pad=16)
    ax.set_xlabel("Days on ART", fontsize=26)
    ax.xaxis.set_label_coords(0.5, xlab_y)
    ax.xaxis.label.set_va("center")
    if ylabel:
        ax.set_ylabel(ylabel, fontsize=26)
        ax.yaxis.set_label_coords(-0.365, 0.5)
        ax.yaxis.label.set_va("center")
    cx = (left + AXW / 2) / W
    fig.text(cx, 1 - title_y / H, title, fontsize=23, fontweight="bold", ha="center", va="center")
    lx = [74.7, 741, 1404.4][col]
    ly = [22.4, 831.7][row]
    fig.text(lx / W, 1 - ly / H, letter, fontsize=37, ha="center", va="center")
    return ax


panel(0, 0, alb, "Albumin ratio", "A", (0.67, 12.45),
      [2, 4, 6, 8, 10, 12], ["2", "4", "6", "8", "10", "12"])

panel(1, 0, neo, "CSF Neopterin", "B", (-1.46, 52.0),
      [5.8, 10, 20, 30, 40, 50], ["5.8", "10.0", "20.0", "30.0", "40.0", "50.0"],
      ylabel="nmol/L", hlines=[(5.8, "-", 5.5)])

panel(2, 0, nfl, "CSF NFL", "C", (26.8, 12650),
      [50, 100, 500, 823, 5000, 10000], ["50", "100", "500", "823", "5000", "10000"],
      ylabel="ng/L", log=True, hlines=[(823, "-", 5.5)])

panel(0, 1, rna, "CSF RNA", "D", (6.46, 1.55e6),
      [ND, 20, 50, 1000, 10000, 1e5, 1e6], ["ND", "", "50", "1000", "10000", "1e+05", "1e+06"],
      ylabel="copies/mL", log=True,
      hlines=[(50, "-", 5.5), (20, (0, (3.6, 3.6)), 1.8)])

panel(1, 1, igg, "IgG index", "E", (-0.103, 2.595),
      [0, 0.5, 1.0, 1.5, 2.0, 2.5], ["0.00", "0.50", "1.00", "1.50", "2.00", "2.50"],
      hlines=[(0.63, "-", 5.5)])

panel(2, 1, b2m, "CSF \u03b22\u2013microglobulin", "F", (-0.248, 6.228),
      [0, 1, 2, 3, 4, 5, 6], ["0", "1", "2", "3", "4", "5", "6"], ylabel="mg/L")

fig.savefig("out.png", dpi=100)
